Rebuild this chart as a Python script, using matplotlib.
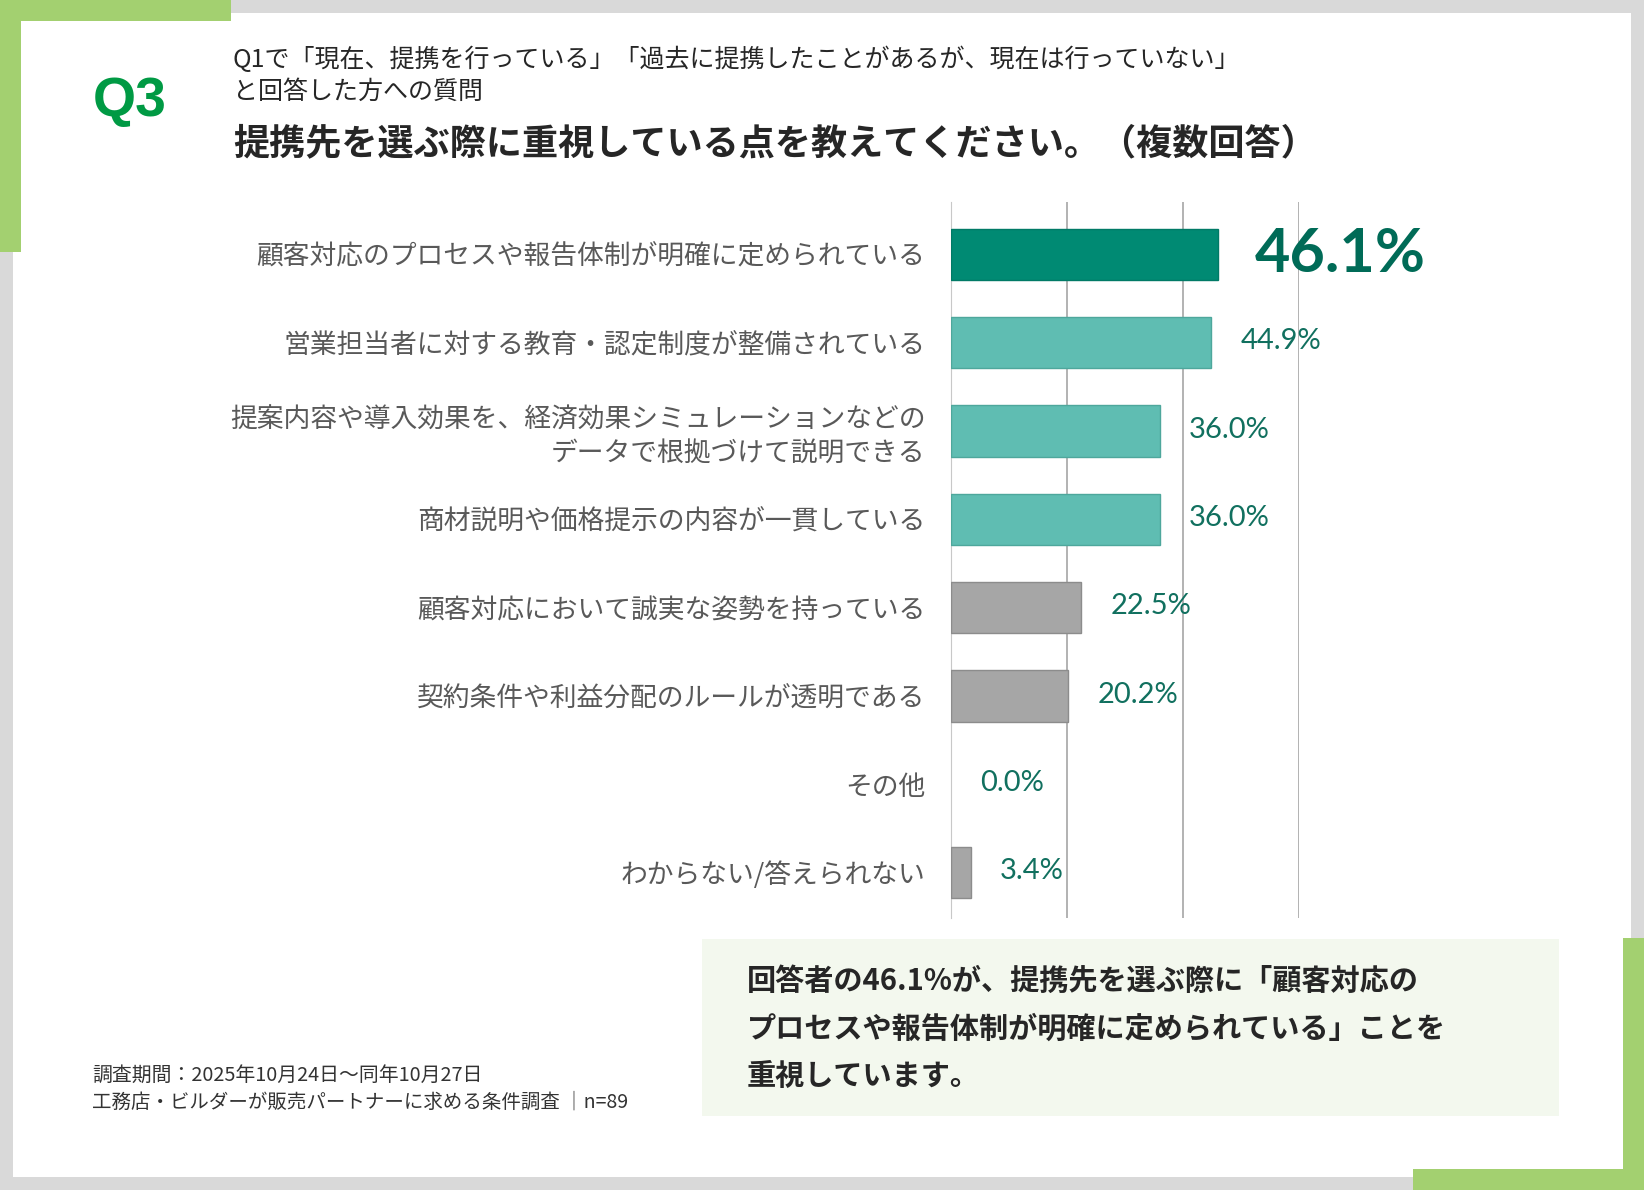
import matplotlib.pyplot as plt
from matplotlib.patches import Rectangle

plt.rcParams['font.family'] = ['Noto Sans CJK JP', 'DejaVu Sans']

# data
categories = [
    '顧客対応のプロセスや報告体制が明確に定められている',
    '営業担当者に対する教育・認定制度が整備されている',
    '提案内容や導入効果を、経済効果シミュレーションなどの\nデータで根拠づけて説明できる',
    '商材説明や価格提示の内容が一貫している',
    '顧客対応において誠実な姿勢を持っている',
    '契約条件や利益分配のルールが透明である',
    'その他',
    'わからない/答えられない',
]
values = [46.1, 44.9, 36.0, 36.0, 22.5, 20.2, 0.0, 3.4]
bar_colors = ['#008a73', '#5fbdb2', '#5fbdb2', '#5fbdb2',
              '#a6a6a6', '#a6a6a6', '#a6a6a6', '#a6a6a6']
edge_colors = ['#007a66', '#4ea79c', '#4ea79c', '#4ea79c',
               '#8c8c8c', '#8c8c8c', '#8c8c8c', '#8c8c8c']
xticks = [0, 20, 40, 60]

W, H = 1568.0, 1135.0   # coordinates measured on the reference preview


def fx(x):
    return x / W


def fy(y):
    return 1 - y / H


fig = plt.figure(figsize=(16.44, 11.90), dpi=100)
fig.patch.set_facecolor('#d9d9d9')

# white page and green corner bars
green = '#a3d070'
page = [
    (12, 12, 1544, 1111, 'white'),
    (0, 0, 220, 20, green),
    (0, 0, 20, 240, green),
    (1548, 895, 20, 240, green),
    (1348, 1115, 220, 20, green),
    (670, 896, 817, 168, '#f3f8ee'),
]
for x, y, w, h, c in page:
    fig.patches.append(Rectangle((fx(x), fy(y + h)), w / W, h / H,
                                 transform=fig.transFigure, facecolor=c,
                                 edgecolor='none', zorder=-5))

# header
fig.text(fx(88), fy(97), 'Q3', fontsize=40, fontweight='bold', color='#009a44',
         family=['Liberation Sans', 'DejaVu Sans'], va='center', ha='left')
fig.text(fx(222), fy(57), 'Q1で「現在、提携を行っている」「過去に提携したことがあるが、現在は行っていない」',
         fontsize=18, color='#262626', va='center', ha='left')
fig.text(fx(222), fy(88), 'と回答した方への質問', fontsize=18, color='#262626',
         va='center', ha='left')
fig.text(fx(222), fy(137), '提携先を選ぶ際に重視している点を教えてください。（複数回答）',
         fontsize=26, fontweight='bold', color='#262626', va='center', ha='left')

# bar chart
ax = fig.add_axes([fx(907), fy(876), fx(1239) - fx(907), fy(193) - fy(876)])
ax.patch.set_alpha(0)
ypos = list(range(len(values)))
widths = [1 if v > 0 else 0 for v in values]
ax.barh(ypos, values, height=0.58, color=bar_colors, edgecolor=edge_colors,
        linewidth=widths, zorder=3)
ax.set_xlim(0, 60)
ax.set_ylim(7.52, -0.59)
ax.set_xticks(xticks)
ax.grid(axis='x', color='#a6a6a6', linewidth=1.2, zorder=0)
ax.tick_params(left=False, bottom=False, labelbottom=False)
for s in ['top', 'right', 'bottom']:
    ax.spines[s].set_visible(False)
ax.spines['left'].set_color('#c8c8c8')
ax.set_yticks(ypos)
ax.set_yticklabels(categories, fontsize=19.3, color='#595959',
                   linespacing=1.3)
ax.tick_params(axis='y', pad=15)

for i, v in enumerate(values):
    if i == 0:
        ax.annotate(f'{v:.1f}%', (v, i), xytext=(26, 0), textcoords='offset points',
                    fontsize=44, fontweight='bold', color='#006b57',
                    family=['Lato', 'DejaVu Sans'], va='center', ha='left',
                    annotation_clip=False)
    else:
        ax.annotate(f'{v:.1f}%', (v, i), xytext=(21, 1), textcoords='offset points',
                    fontsize=21, color='#11705f', family=['Lato', 'DejaVu Sans'],
                    va='center', ha='left', annotation_clip=False)

# summary box text
summary = ['回答者の46.1%が、提携先を選ぶ際に「顧客対応の',
           'プロセスや報告体制が明確に定められている」ことを',
           '重視しています。']
for k, line in enumerate(summary):
    fig.text(fx(712), fy(936 + 45 * k), line, fontsize=21, fontweight='bold',
             color='#262626', va='center', ha='left')

# footer
fig.text(fx(88), fy(1026), '調査期間：2025年10月24日～同年10月27日', fontsize=14.3,
         color='#333333', va='center', ha='left')
fig.text(fx(88), fy(1051), '工務店・ビルダーが販売パートナーに求める条件調査 │n=89',
         fontsize=14, color='#333333', va='center', ha='left')

fig.savefig('out.png', dpi=100, facecolor=fig.get_facecolor())
